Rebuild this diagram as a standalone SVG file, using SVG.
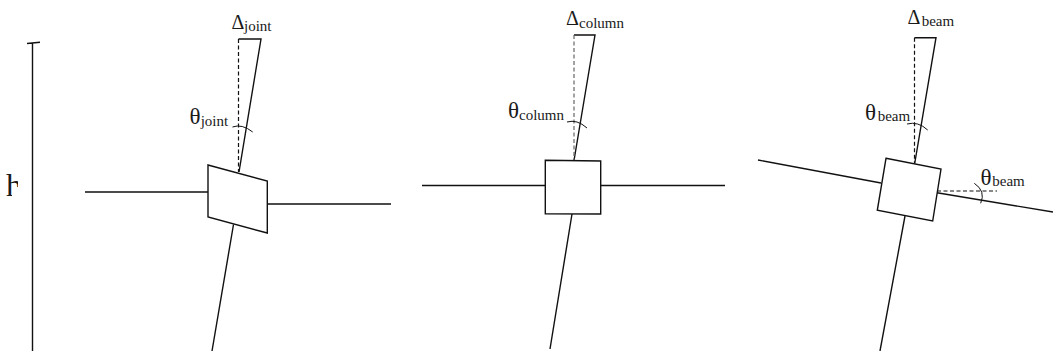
<svg xmlns="http://www.w3.org/2000/svg" width="1053" height="351" viewBox="0 0 1053 351">
<style>
.l{fill:none;stroke:#111;stroke-width:1.4}
.a{fill:none;stroke:#111;stroke-width:1}
.d{fill:none;stroke:#111;stroke-width:1.2;stroke-dasharray:4 2.5}
.n{fill:#fff;stroke:#111;stroke-width:1.4;stroke-linejoin:miter}
text{font-family:"Liberation Serif","Times New Roman",serif;fill:#1a1a1a}
.b{font-size:23px}
.c{font-size:20px}
.s{font-size:15px}
</style>
<defs><clipPath id="hc"><path d="M0 160H18V187H12V200H0Z"/></clipPath></defs>
<rect width="1053" height="351" fill="#fff"/>
<g id="connectors">
<path class="l" d="M32.5 43V351M27 43.5L40 42.3"/>
<path class="l" d="M85 192H208M268 204H391M233.5 224.5L212 351M239 172L261 39H238.5"/>
<path class="d" d="M238.5 39V172"/>
<path class="a" d="M232.500 127Q242 123.500 252.700 132"/>
<path class="l" d="M422 185.500H545M601 185.500H725M572 214L550 349M574 160.500L595 35H574"/>
<path class="d" d="M574 35V160.500" style="stroke:#666"/>
<path class="a" d="M567 122Q577 119 587 128"/>
<path class="l" d="M758 160L881 183M937 192.700L1053 212M905 216L880 351M914.700 163.500L936 37.700H914.500"/>
<path class="d" d="M914.500 37.700V163M937 191H997"/>
<path class="a" d="M907 124Q918 121 927.700 130M974.300 183.300Q986 191 980.700 203.300"/>
</g>
<g id="height-label"><text x="6" y="196" clip-path="url(#hc)" style="font-size:32px">h</text></g>
<g id="joint"><path class="n" d="M208 165L267.300 181V233L208 217Z"/></g>
<g id="column"><path class="n" d="M545.300 160.300L600.700 161V214L545.300 213.700Z"/></g>
<g id="beam"><path class="n" d="M886 158.300L941 169L932.700 221L877.300 210.300Z"/></g>
<g id="labels">
<text class="c" x="231.500" y="28.500">Δ<tspan class="s" x="244" y="31">joint</tspan></text>
<text class="b" x="189.500" y="123.500">θ<tspan class="s" x="200.700" y="126">joint</tspan></text>
<text class="c" x="566" y="24.500">Δ<tspan class="s" x="579" y="28">column</tspan></text>
<text class="b" x="508" y="117.500">θ<tspan class="s" x="519" y="120">column</tspan></text>
<text class="c" x="907.500" y="24">Δ<tspan class="s" x="921.700" y="26">beam</tspan></text>
<text class="b" x="865" y="119.500">θ<tspan class="s" x="877.700" y="120.500">beam</tspan></text>
<text class="b" x="980.500" y="184.500">θ<tspan class="s" x="992.300" y="186">beam</tspan></text>
</g>
</svg>
